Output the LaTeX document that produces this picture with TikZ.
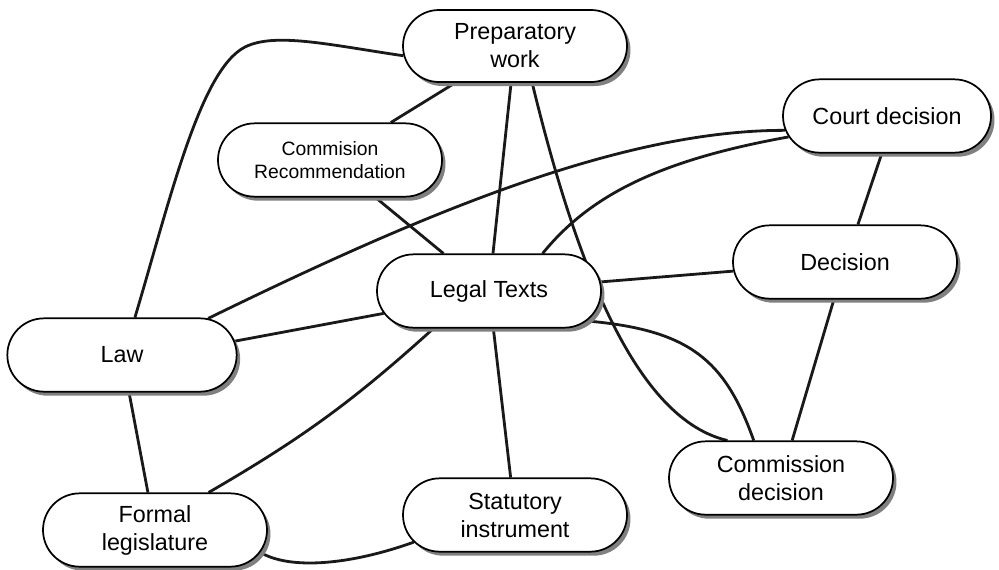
\documentclass[tikz,border=0pt]{standalone}
\usepackage{fontspec}
\setmainfont{Liberation Sans}
\usetikzlibrary{shapes.misc,shadows,backgrounds}
\begin{document}
\begin{tikzpicture}[x=0.75pt,y=-0.75pt,
  pill/.style={rounded rectangle, draw=black, line width=1.3pt, fill=white,
    minimum width=168pt, minimum height=55pt, align=center, inner sep=0pt,
    font=\fontsize{17.5}{21}\selectfont,
    drop shadow={shadow xshift=2.6pt, shadow yshift=-3pt, fill=black!50, opacity=1}},
  link/.style={line width=2.1pt, draw=black!90}]
\useasboundingbox (0,0) rectangle (999,569);

% topics
\node[pill, minimum height=54pt] (prep) at (515,46) {Preparatory\\work};
\node[pill, font=\fontsize{14.5}{17.5}\selectfont] (comrec) at (330,160) {Commision\\Recommendation};
\node[pill, minimum width=156pt] (court) at (887,116) {Court decision};
\node[pill] (decision) at (845,262) {Decision};
\node[pill] (legal) at (489,291) {Legal Texts};
\node[pill, minimum width=172pt] (law) at (122,355) {Law};
\node[pill] (formal) at (155,530) {Formal\\legislature};
\node[pill] (statutory) at (515,515) {Statutory\\instrument};
\node[pill] (commdec) at (781,478) {Commission\\decision};

% relations
\begin{scope}[on background layer]
\draw[link] (law.71) .. controls (170,200) and (200,70) .. (245,47)
                     .. controls (275,32) and (330,45) .. (prep.185);
\draw[link] (prep) -- (comrec);
\draw[link] (prep) -- (legal);
\draw[link] (prep.295) .. controls (580,280) and (640,420) .. (commdec.145);
\draw[link] (comrec) -- (legal);
\draw[link] (law.23) .. controls (420,215) and (620,130) .. (court.188);
\draw[link] (legal.35) .. controls (590,195) and (660,160) .. (court.192);
\draw[link] (court.262) -- (decision.71);
\draw[link] (legal) -- (decision);
\draw[link] (decision) -- (commdec);
\draw[link] (law.7) -- (legal.192);
\draw[link] (legal.214) to[bend left=6] (formal.35);
\draw[link] (legal) -- (statutory);
\draw[link] (law) -- (formal);
\draw[link] (formal.348) .. controls (290,570) and (350,565) .. (statutory.195);
\draw[link] (legal.343) .. controls (690,330) and (725,360) .. (commdec.126);
\end{scope}
\end{tikzpicture}
\end{document}
